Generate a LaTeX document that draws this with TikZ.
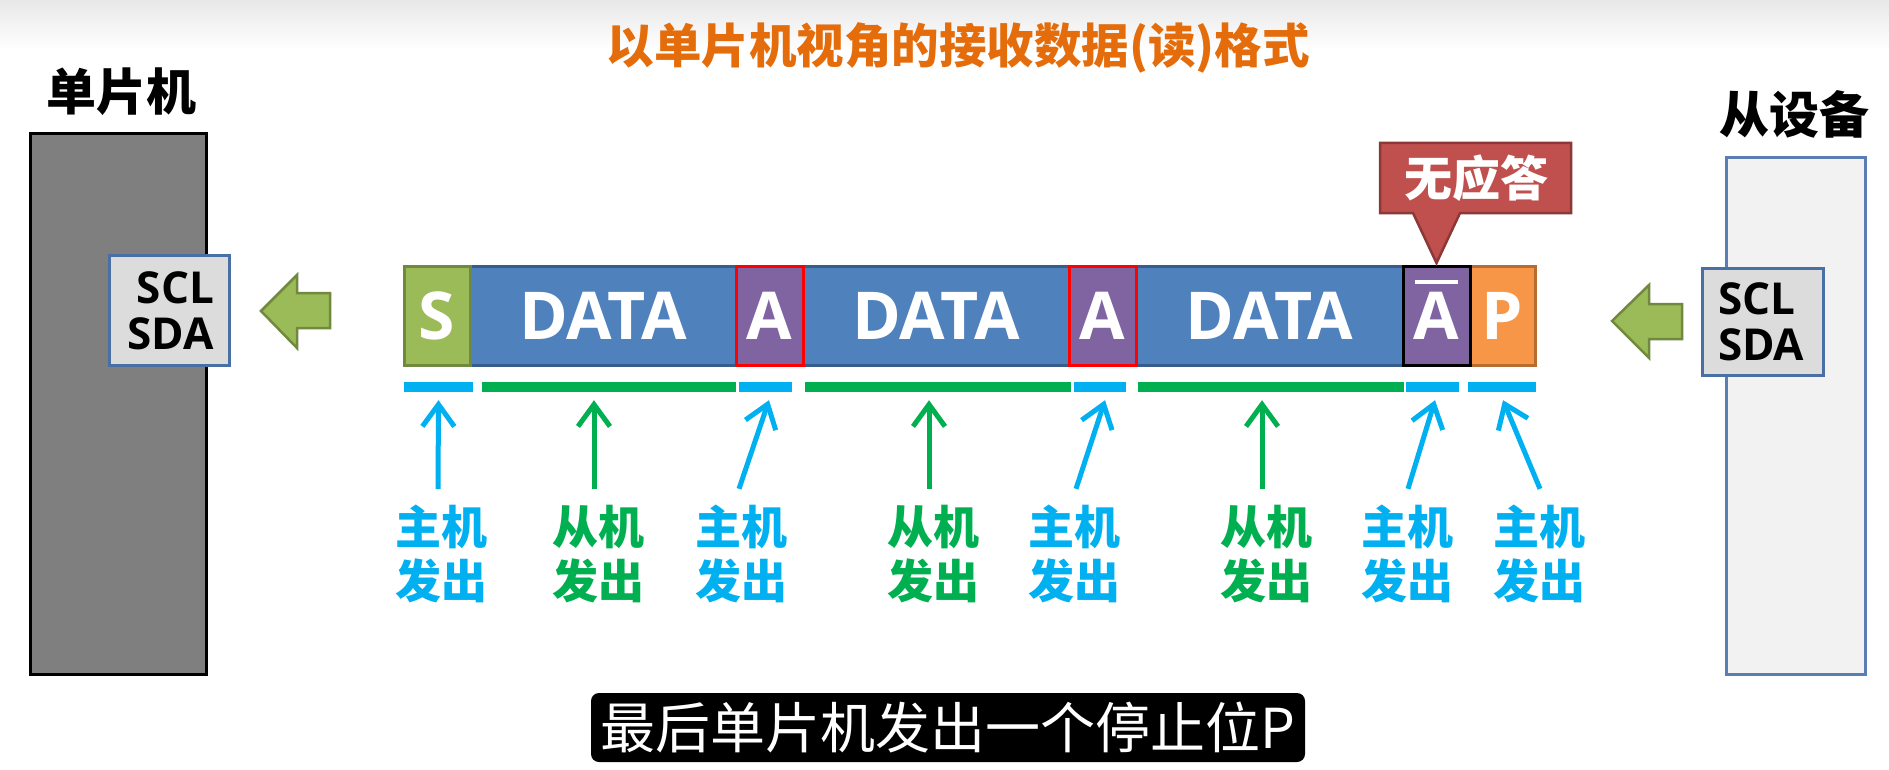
\documentclass[tikz,border=0pt]{standalone}
\usepackage{fontspec}
\setmainfont{Open Sans}
\newfontfamily\cjk{Noto Sans CJK SC}
\usetikzlibrary{arrows.meta}
\definecolor{cgreenbox}{HTML}{9BBB59}
\definecolor{cgreenboxd}{HTML}{71893F}
\definecolor{cdata}{HTML}{4F81BD}
\definecolor{cdatad}{HTML}{385D8A}
\definecolor{cpurple}{HTML}{8064A2}
\definecolor{corange}{HTML}{F79646}
\definecolor{corangd}{HTML}{B66D31}
\definecolor{cred}{HTML}{C0504D}
\definecolor{credd}{HTML}{8C3836}
\definecolor{cblue}{HTML}{00B0F0}
\definecolor{cgreen}{HTML}{00B050}
\definecolor{ctitle}{HTML}{E46C0A}
\definecolor{cgray}{HTML}{7F7F7F}
\definecolor{cio}{HTML}{DCDCDC}
\definecolor{ciob}{HTML}{4A6FA5}
\definecolor{cslave}{HTML}{F2F2F2}
\definecolor{cslaveb}{HTML}{5A7EB3}
\tikzset{
  pkt/.style={draw, line width=3pt, inner sep=0pt, minimum height=99pt, text=white,
    font=\bfseries\fontsize{66}{70}\selectfont},
  barb/.style={fill=cblue, inner sep=0pt, minimum height=10pt},
  barg/.style={fill=cgreen, inner sep=0pt, minimum height=10pt},
  lblb/.style={text=cblue, align=center, inner sep=0pt,
    font=\cjk\bfseries\fontsize{46}{54}\selectfont},
  lblg/.style={lblb, text=cgreen},
  arrb/.style={draw=cblue, line width=5pt, -{Straight Barb[length=22pt,width=32pt]}},
  arrg/.style={arrb, draw=cgreen},
  iobox/.style={draw=ciob, line width=3pt, fill=cio, inner sep=0pt,
    font=\bfseries\fontsize{44}{46}\selectfont},
  heading/.style={inner sep=0pt, font=\cjk\bfseries\fontsize{50}{54}\selectfont},
  bigarrow/.style={fill=cgreenbox, draw=cgreenboxd, line width=2.5pt, line join=miter}
}
\begin{document}
\begin{tikzpicture}[x=1pt,y=-1pt]
\useasboundingbox (0,0) rectangle (1889,770);
\fill[white] (0,0) rectangle (1889,770);
\shade[top color=black!9, bottom color=white] (0,0) rectangle (1889,50);

% title
\node[heading, text=ctitle, font=\cjk\bfseries\fontsize{47.5}{52}\selectfont] (title) at (958,48) {以单片机视角的接收数据(读)格式};

% MCU side
\node[heading] (mcuname) at (121,92) {单片机};
\node[draw=black, line width=3pt, fill=cgray, minimum width=176pt, minimum height=541pt] (mcu) at (118.5,404) {};
\node[iobox, minimum width=120pt, minimum height=110pt, text width=89pt, align=right] (mcuio) at (169.5,310.5) {SCL\\SDA};
\draw[bigarrow] (261,311) -- (297,275) -- (297,293) -- (330,293) -- (330,328) -- (297,328) -- (297,348) -- cycle;

% slave side
\node[heading] (slavename) at (1794,114) {从设备};
\node[draw=cslaveb, line width=3pt, fill=cslave, minimum width=139pt, minimum height=517pt] (slave) at (1796,416) {};
\node[iobox, minimum width=121pt, minimum height=107pt, text width=90pt, align=left] (slaveio) at (1763,322) {SCL\\SDA};
\draw[bigarrow] (1612,321) -- (1649,285) -- (1649,304) -- (1682,304) -- (1682,339) -- (1649,339) -- (1649,358) -- cycle;

% packet
\node[pkt, fill=cdata, draw=cdatad, minimum width=266pt] (d1) at (603,316) {DATA};
\node[pkt, fill=cdata, draw=cdatad, minimum width=266pt] (d2) at (936,316) {DATA};
\node[pkt, fill=cdata, draw=cdatad, minimum width=267pt] (d3) at (1269.5,316) {DATA};
\node[pkt, fill=cgreenbox, draw=cgreenboxd, minimum width=66pt] (s) at (437,316) {S};
\node[pkt, fill=corange, draw=corangd, minimum width=65pt] (p) at (1502.5,316) {P};
\node[pkt, fill=cpurple, draw=red, minimum width=67pt] (a1) at (769.5,316) {A};
\node[pkt, fill=cpurple, draw=red, minimum width=67pt] (a2) at (1102.5,316) {A};
\node[pkt, fill=cpurple, draw=black, minimum width=67pt] (abar) at (1436.5,316) {A};
\draw[white, line width=4pt] ([xshift=-21.5pt,yshift=34pt]abar.center) -- ([xshift=21.5pt,yshift=34pt]abar.center);

% callout
\fill[cred, draw=credd, line width=2.5pt, line join=miter] (1380,143) -- (1571,143) -- (1571,213) -- (1460,213) -- (1436.5,263) -- (1413,213) -- (1380,213) -- cycle;
\node[heading, text=white, font=\cjk\bfseries\fontsize{48}{52}\selectfont] (nacktext) at (1476,178) {无应答};

% bars
\node[barb, minimum width=69pt] (b1) at (438.5,387) {};
\node[barg, minimum width=254pt] (g1) at (609,387) {};
\node[barb, minimum width=53pt] (b2) at (765.5,387) {};
\node[barg, minimum width=266pt] (g2) at (938,387) {};
\node[barb, minimum width=52pt] (b3) at (1100,387) {};
\node[barg, minimum width=266pt] (g3) at (1271,387) {};
\node[barb, minimum width=53pt] (b4) at (1432.5,387) {};
\node[barb, minimum width=68pt] (b5) at (1502,387) {};

% labels
\node[lblb] (m1) at (441.5,554) {主机\\发出};
\node[lblg] (s1) at (598.5,554) {从机\\发出};
\node[lblb] (m2) at (741,554) {主机\\发出};
\node[lblg] (s2) at (933,554) {从机\\发出};
\node[lblb] (m3) at (1074,554) {主机\\发出};
\node[lblg] (s3) at (1266,554) {从机\\发出};
\node[lblb] (m4) at (1407.5,554) {主机\\发出};
\node[lblb] (m5) at (1539,554) {主机\\发出};

% arrows
\draw[arrb] ([xshift=-3.5pt,yshift=16pt]m1.north) -- ([yshift=-8pt]b1.south);
\draw[arrg] ([xshift=-4.5pt,yshift=16pt]s1.north) -- ([xshift=-15pt,yshift=-8pt]g1.south);
\draw[arrb] ([xshift=-2pt,yshift=16pt]m2.north) -- ([xshift=3.5pt,yshift=-8pt]b2.south);
\draw[arrg] ([xshift=-4pt,yshift=16pt]s2.north) -- ([xshift=-9pt,yshift=-8pt]g2.south);
\draw[arrb] ([xshift=2pt,yshift=16pt]m3.north) -- ([xshift=5pt,yshift=-8pt]b3.south);
\draw[arrg] ([xshift=-4pt,yshift=16pt]s3.north) -- ([xshift=-9pt,yshift=-8pt]g3.south);
\draw[arrb] ([xshift=0.5pt,yshift=16pt]m4.north) -- ([xshift=2.5pt,yshift=-8pt]b4.south);
\draw[arrb] ([xshift=1pt,yshift=16pt]m5.north) -- ([xshift=1pt,yshift=-8pt]b5.south);

% subtitle
\node[fill=black, rounded corners=8pt, minimum width=714pt, minimum height=69pt, inner sep=0pt,
  text=white, font=\cjk\fontsize{55}{60}\selectfont] (sub) at (948,727.5) {最后单片机发出一个停止位P};
\end{tikzpicture}
\end{document}
